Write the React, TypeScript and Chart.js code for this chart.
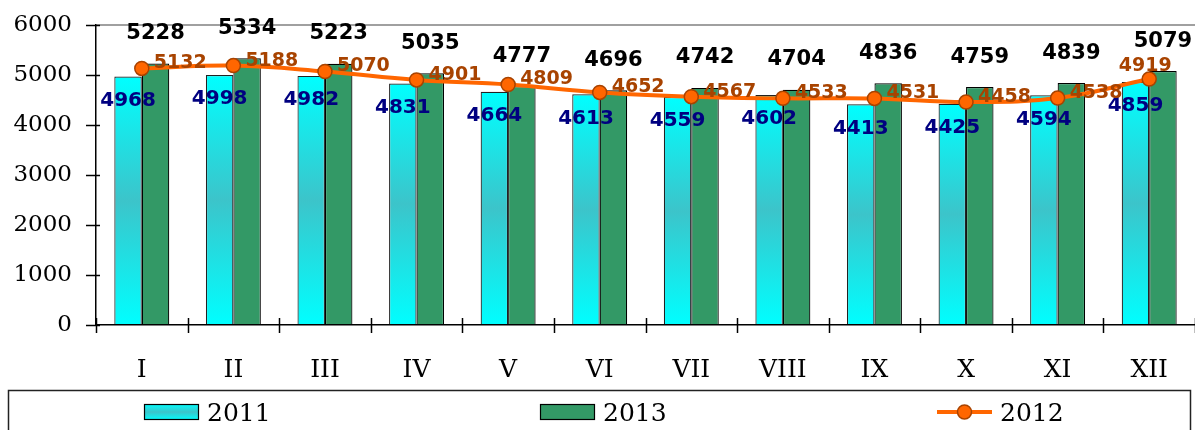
import { useEffect, useRef } from 'react';
import { Chart, registerables } from 'chart.js';

Chart.register(...registerables);

const categories = ['I', 'II', 'III', 'IV', 'V', 'VI', 'VII', 'VIII', 'IX', 'X', 'XI', 'XII'];
const values2011 = [4968, 4998, 4982, 4831, 4664, 4613, 4559, 4602, 4413, 4425, 4594, 4859];
const values2013 = [5228, 5334, 5223, 5035, 4777, 4696, 4742, 4704, 4836, 4759, 4839, 5079];
const values2012 = [5132, 5188, 5070, 4901, 4809, 4652, 4567, 4533, 4531, 4458, 4538, 4919];
const yTicks = [0, 1000, 2000, 3000, 4000, 5000, 6000];
const seriesNames = ['2011', '2013', '2012'];

const CYAN = '#00FFFF';
const TEAL = '#3CC4CA';
const GREEN = '#339966';
const ORANGE = '#FF6600';
const BROWN = '#A84300';
const NAVY = '#000080';
const SERIF = '"DejaVu Serif", serif';
const SANS = '"DejaVu Sans", Verdana, sans-serif';

function cyanGradient(ctx: CanvasRenderingContext2D, top: number, bottom: number) {
  const g = ctx.createLinearGradient(0, top, 0, bottom);
  g.addColorStop(0, CYAN);
  g.addColorStop(0.5, TEAL);
  g.addColorStop(1, CYAN);
  return g;
}

const decorPlugin = {
  id: 'decor',
  afterDatasetsDraw(chart: any) {
    const ctx: CanvasRenderingContext2D = chart.ctx;
    const area = chart.chartArea;
    ctx.save();
    ctx.textAlign = 'center';
    ctx.textBaseline = 'middle';

    // 2013 labels (black, above bars)
    const m13 = chart.getDatasetMeta(2);
    ctx.font = `bold 21px ${SANS}`;
    ctx.fillStyle = '#000';
    m13.data.forEach((el: any, i: number) => {
      ctx.fillText(String(values2013[i]), el.x, el.y - 30);
    });

    // 2011 labels (navy, inside top of bars)
    const m11 = chart.getDatasetMeta(1);
    ctx.font = `bold 20px ${SANS}`;
    ctx.fillStyle = NAVY;
    m11.data.forEach((el: any, i: number) => {
      ctx.fillText(String(values2011[i]), el.x, el.y + 24);
    });

    // 2012 labels (brown, right of points)
    const m12 = chart.getDatasetMeta(0);
    ctx.font = `bold 19px ${SANS}`;
    ctx.fillStyle = BROWN;
    m12.data.forEach((el: any, i: number) => {
      const txt = String(values2012[i]);
      const w = ctx.measureText(txt).width;
      if (el.x + 12 + w > area.right - 4) {
        ctx.textAlign = 'center';
        ctx.fillText(txt, el.x - 4, el.y - 13);
      } else {
        ctx.textAlign = 'left';
        ctx.fillText(txt, el.x + 12, el.y - 5);
      }
    });
    ctx.restore();
  },
  afterDraw(chart: any) {
    const ctx: CanvasRenderingContext2D = chart.ctx;
    const xs = chart.scales.x;
    const ys = chart.scales.y;
    const area = chart.chartArea;
    ctx.save();
    ctx.strokeStyle = '#000';
    ctx.lineWidth = 1.5;
    // x ticks at category boundaries
    const step = xs.getPixelForValue(1) - xs.getPixelForValue(0);
    for (let i = 0; i <= categories.length; i++) {
      const x = Math.round(xs.getPixelForValue(i) - step / 2) + 0.5;
      ctx.beginPath();
      ctx.moveTo(x, area.bottom - 7);
      ctx.lineTo(x, area.bottom + 8);
      ctx.stroke();
    }
    // y ticks
    yTicks.forEach((v) => {
      const y = Math.round(ys.getPixelForValue(v)) + 0.5;
      ctx.beginPath();
      ctx.moveTo(area.left - 10, y);
      ctx.lineTo(area.left + 4, y);
      ctx.stroke();
    });

    // legend box
    ctx.strokeStyle = '#222';
    ctx.lineWidth = 1.5;
    ctx.strokeRect(8.5, 390.5, 1182, 80);

    const cy = 412;
    ctx.fillStyle = cyanGradient(ctx, cy - 8, cy + 8);
    ctx.fillRect(144, cy - 8, 55, 16);
    ctx.strokeStyle = '#000';
    ctx.lineWidth = 1.2;
    ctx.strokeRect(144.5, cy - 7.5, 54, 15);
    ctx.fillStyle = GREEN;
    ctx.fillRect(540, cy - 8, 55, 16);
    ctx.strokeRect(540.5, cy - 7.5, 54, 15);
    ctx.strokeStyle = ORANGE;
    ctx.lineWidth = 4;
    ctx.beginPath();
    ctx.moveTo(937, cy);
    ctx.lineTo(992, cy);
    ctx.stroke();
    ctx.beginPath();
    ctx.arc(964.5, cy, 7, 0, Math.PI * 2);
    ctx.fillStyle = ORANGE;
    ctx.fill();
    ctx.strokeStyle = BROWN;
    ctx.lineWidth = 1.5;
    ctx.stroke();

    ctx.fillStyle = '#000';
    ctx.font = `25px ${SERIF}`;
    ctx.textAlign = 'left';
    ctx.textBaseline = 'middle';
    ctx.fillText(seriesNames[0], 207, cy + 2);
    ctx.fillText(seriesNames[1], 603, cy + 2);
    ctx.fillText(seriesNames[2], 1000, cy + 2);
    ctx.restore();
  },
};

export default function App() {
  const ref = useRef<HTMLCanvasElement | null>(null);

  useEffect(() => {
    if (!ref.current) return;
    const chart = new Chart(ref.current, {
      type: 'bar',
      data: {
        labels: categories,
        datasets: [
          {
            type: 'line',
            label: seriesNames[2],
            data: values2012,
            borderColor: ORANGE,
            borderWidth: 4,
            tension: 0.4,
            pointRadius: 7,
            pointBackgroundColor: ORANGE,
            pointBorderColor: BROWN,
            pointBorderWidth: 1.5,
            order: 0,
          } as any,
          {
            type: 'bar',
            label: seriesNames[0],
            data: values2011,
            backgroundColor: (c: any) => {
              const ys = c.chart.scales?.y;
              if (!ys || c.raw == null) return CYAN;
              const top = ys.getPixelForValue(c.raw);
              const bottom = ys.getPixelForValue(0);
              if (!isFinite(top) || !isFinite(bottom) || bottom - top < 1) return CYAN;
              return cyanGradient(c.chart.ctx, top, bottom);
            },
            borderColor: '#222',
            borderWidth: 1.2,
            categoryPercentage: 0.6,
            barPercentage: 1.0,
            order: 1,
          },
          {
            type: 'bar',
            label: seriesNames[1],
            data: values2013,
            backgroundColor: GREEN,
            borderColor: '#000',
            borderWidth: 1.2,
            categoryPercentage: 0.6,
            barPercentage: 1.0,
            order: 1,
          },
        ],
      },
      options: {
        responsive: false,
        animation: false,
        devicePixelRatio: 1,
        layout: { autoPadding: false, padding: { top: 25, left: 0, right: 0, bottom: 0 } },
        plugins: {
          legend: { display: false },
          title: { display: false },
          tooltip: { enabled: false },
        },
        scales: {
          x: {
            grid: { display: true, drawOnChartArea: false, drawTicks: true, tickLength: 30, tickColor: 'rgba(0,0,0,0)', color: 'rgba(0,0,0,0)' },
            border: { display: true, color: '#000', width: 1.5 },
            ticks: {
              color: '#000',
              font: { family: SERIF, size: 25 },
              padding: 0,
              maxRotation: 0,
              autoSkip: false,
            },
            afterFit: (s: any) => {
              s.height = 105;
            },
          },
          y: {
            min: 0,
            max: 6000,
            afterBuildTicks: (s: any) => {
              s.ticks = yTicks.map((v) => ({ value: v }));
            },
            grid: {
              drawTicks: true,
              tickLength: 24,
              tickColor: 'rgba(0,0,0,0)',
              color: (c: any) => (c.tick && c.tick.value === 6000 ? '#A0A0A0' : 'rgba(0,0,0,0)'),
              lineWidth: 2,
            },
            border: { display: true, color: '#000', width: 1.5 },
            ticks: {
              color: '#000',
              font: { family: SERIF, size: 23 },
              padding: 0,
              callback: (v: any) => String(v),
            },
            afterFit: (s: any) => {
              s.width = 96;
            },
          },
        },
      },
      plugins: [decorPlugin],
    });
    return () => chart.destroy();
  }, []);

  return (
    <div style={{ position: 'fixed', left: 0, top: 0, width: 1195, height: 430, overflow: 'hidden', background: '#fff' }}>
      <canvas ref={ref} width={1195} height={430} style={{ display: 'block', width: 1195, height: 430 }} />
    </div>
  );
}
